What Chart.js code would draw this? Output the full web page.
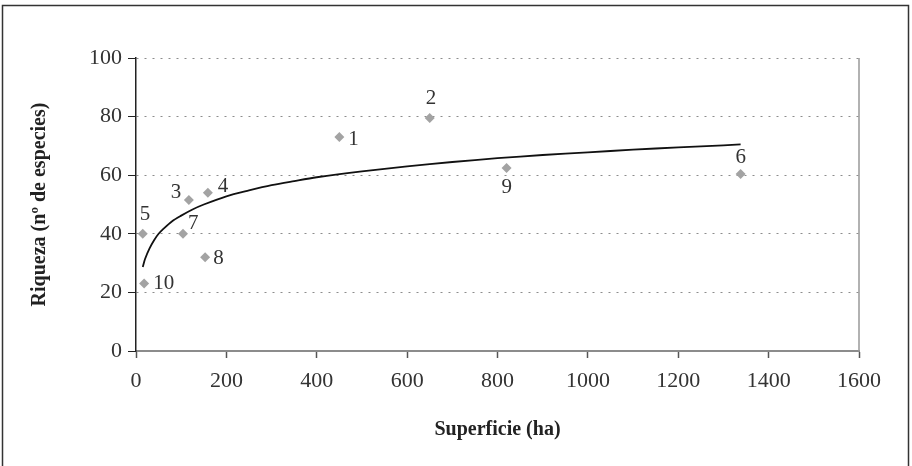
<!DOCTYPE html>
<html>
<head>
<meta charset="utf-8">
<script src="https://cdn.jsdelivr.net/npm/chart.js@4"></script>
<style>
  html, body { margin: 0; padding: 0; background: #fff; }
  #wrap { width: 912px; height: 466px; position: relative; }
</style>
</head>
<body>
<div id="wrap"><canvas id="chart" width="912" height="466"></canvas></div>
<script>
// puntos observados (superficie en ha, riqueza en nº de especies)
const siteLabels = ['1', '2', '3', '4', '5', '6', '7', '8', '9', '10'];
const siteArea = [450, 650, 117, 159, 15, 1338, 104, 153, 820, 18];
const siteRichness = [73, 79.5, 51.5, 54, 40, 60.4, 40, 32, 62.5, 23];

// curva ajustada
const curveArea = [15, 20, 30, 40, 50, 60, 80, 100, 125, 150, 200, 250, 300, 350, 400, 500, 600, 700, 800, 900, 1000, 1100, 1200, 1300, 1338];
const curveRichness = [28.7, 31.4, 35, 37.8, 40, 41.6, 44.3, 46.2, 48.3, 50, 52.8, 54.8, 56.6, 58, 59.3, 61.3, 63, 64.5, 65.8, 66.9, 67.8, 68.7, 69.5, 70.2, 70.5];

const xTicks = [0, 200, 400, 600, 800, 1000, 1200, 1400, 1600];
const yTicks = [0, 20, 40, 60, 80, 100];

const serif = '"Liberation Serif", "DejaVu Serif", serif';

// desplazamiento de cada etiqueta respecto a su punto
const labelOffset = {
    '1': [9, 2], '2': [-4, -20], '3': [-18, -8], '4': [10, -6], '5': [-3, -19],
    '6': [-5, -17], '7': [5, -10], '8': [8, 1], '9': [-5, 20], '10': [9, 0]
};

const frameAndLabels = {
    id: 'frameAndLabels',
    afterDraw(chart) {
        const ctx = chart.ctx;
        const area = chart.chartArea;
        ctx.save();
        // marco exterior
        ctx.strokeStyle = '#333';
        ctx.lineWidth = 1.5;
        ctx.strokeRect(2.5, 5.5, 906, 480);
        // borde derecho del area
        ctx.strokeStyle = '#999';
        ctx.lineWidth = 1.5;
        ctx.beginPath();
        ctx.moveTo(area.right, area.top);
        ctx.lineTo(area.right, area.bottom);
        ctx.stroke();
        // etiquetas de los puntos
        const meta = chart.getDatasetMeta(1);
        ctx.font = '21px ' + serif;
        ctx.fillStyle = '#333';
        ctx.textAlign = 'left';
        ctx.textBaseline = 'middle';
        meta.data.forEach(function (pt, i) {
            const off = labelOffset[siteLabels[i]];
            ctx.fillText(siteLabels[i], pt.x + off[0], pt.y + off[1]);
        });
        ctx.restore();
    }
};

const ctx = document.getElementById('chart').getContext('2d');
new Chart(ctx, {
    type: 'scatter',
    data: {
        datasets: [{
            label: 'curva',
            data: curveArea.map(function (x, i) { return { x: x, y: curveRichness[i] }; }),
            showLine: true,
            borderColor: '#111',
            borderWidth: 1.8,
            pointRadius: 0,
            tension: 0.3
        }, {
            label: 'sitios',
            data: siteArea.map(function (x, i) { return { x: x, y: siteRichness[i] }; }),
            pointStyle: 'rectRot',
            pointRadius: 5,
            backgroundColor: '#a3a3a3',
            borderColor: '#a3a3a3',
            borderWidth: 0
        }]
    },
    options: {
        responsive: false,
        animation: false,
        layout: { padding: { left: 0, top: 58, right: 53, bottom: 0 } },
        plugins: { legend: { display: false }, tooltip: { enabled: false } },
        scales: {
            x: {
                type: 'linear',
                min: 0,
                max: 1600,
                afterBuildTicks: function (s) { s.ticks = xTicks.map(function (v) { return { value: v }; }); },
                afterFit: function (s) { s.height = 115; },
                border: { color: '#8c8c8c', width: 2 },
                grid: { drawOnChartArea: false, tickLength: 7, tickColor: '#555', tickWidth: 1.5 },
                ticks: {
                    color: '#333', font: { family: serif, size: 22 }, maxRotation: 0, padding: 10,
                    callback: function (v) { return String(v); }
                },
                title: { display: true, text: 'Superficie (ha)', color: '#222', font: { family: serif, size: 20, weight: 'bold' }, padding: { top: 24, bottom: 24 } }
            },
            y: {
                min: 0,
                max: 100,
                afterBuildTicks: function (s) { s.ticks = yTicks.map(function (v) { return { value: v }; }); },
                afterFit: function (s) { s.width = 136; },
                border: { color: '#222', width: 1.5, dash: [2, 6] },
                grid: {
                    color: '#8c8c8c',
                    lineWidth: 1,
                    tickLength: 8,
                    tickColor: '#222',
                    tickBorderDash: [1, 0],
                    tickWidth: 1
                },
                ticks: {
                    color: '#333', font: { family: serif, size: 22 }, padding: 6,
                    callback: function (v) { return String(v); }
                },
                title: { display: true, text: 'Riqueza (nº de especies)', color: '#222', font: { family: serif, size: 20, weight: 'bold' }, padding: { top: 28, bottom: 28 } }
            }
        }
    },
    plugins: [frameAndLabels]
});
</script>
</body>
</html>
